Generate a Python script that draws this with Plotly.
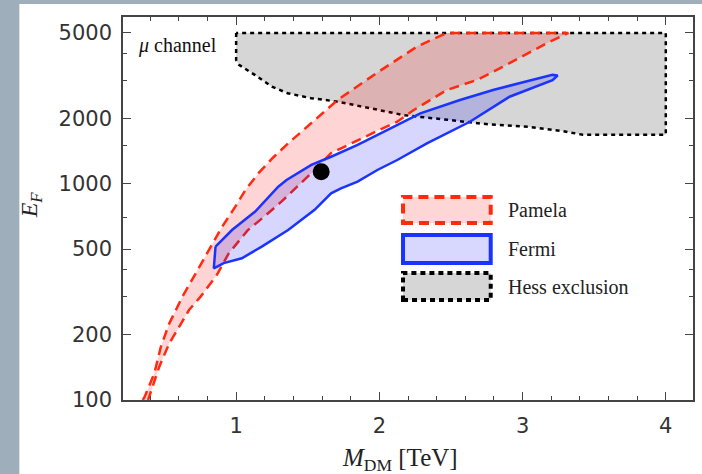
import plotly.graph_objects as go

# ---------------- data ----------------
# Pamela region: upper (left) boundary, top segment at 5000, lower (right) boundary
pamela_x = [0.348, 0.36, 0.429, 0.475, 0.533, 0.625, 0.718, 0.81, 0.902, 0.994,
            1.066, 1.156, 1.26, 1.363, 1.548, 1.709, 1.986, 2.263, 2.47,
            3.32,
            3.17, 2.86, 2.68, 2.47, 2.24, 2.125, 2.009, 1.85, 1.663, 1.525, 1.316,
            1.2, 1.08, 0.948, 0.866, 0.752, 0.671, 0.602, 0.533, 0.464, 0.394, 0.385]
pamela_y = [100, 103, 133, 177, 226, 301, 386, 494, 634, 785,
            940, 1122, 1330, 1541, 1978, 2449, 3280, 4325, 5000,
            5000,
            4490, 3480, 3030, 2720, 2200, 1941, 1790, 1598, 1390, 1122, 828,
            710, 610, 477, 380, 301, 261, 218, 183, 143, 103, 100]

# Fermi region: upper edge to the tip, then lower edge back
fermi_x = [0.856, 0.971, 1.133, 1.294, 1.352, 1.525, 1.663, 1.848, 2.033, 2.286,
           2.563, 2.794, 3.024, 3.209, 3.245,
           3.209, 2.909, 2.632, 2.332, 2.125, 1.986, 1.848, 1.732, 1.663, 1.548,
           1.363, 1.179, 1.040, 0.913, 0.844, 0.856]
fermi_y = [513, 612, 745, 971, 1043, 1225, 1337, 1517, 1746, 2124,
           2449, 2723, 2981, 3199, 3180,
           3027, 2535, 1941, 1541, 1291, 1161, 1026, 955, 905, 759,
           612, 513, 453, 430, 407, 513]

# Hess exclusion region
hess_x = [1.0, 1.0, 1.02, 1.13, 1.25, 1.36, 1.525, 1.71, 1.94, 2.17, 2.49, 2.72,
          3.05, 3.28, 3.42, 4.0, 4.0, 1.0]
hess_y = [5000, 3750, 3560, 3200, 2820, 2630, 2495, 2404, 2240, 2083, 1978, 1900,
          1836, 1758, 1690, 1690, 5000, 5000]

# best-fit point
point_x = [1.594]
point_y = [1140]

x_ticks = [1, 2, 3, 4]
x_minor = [0.4, 0.6, 0.8, 1.2, 1.4, 1.6, 1.8, 2.2, 2.4, 2.6, 2.8, 3.2, 3.4, 3.6, 3.8, 4.2]
y_ticks = [100, 200, 500, 1000, 2000, 5000]
y_tick_text = ["100", "200", "500", "1000", "2000", "5000"]
y_minor = [300, 400, 700, 1500, 3000, 4000]

legend_names = ["Pamela", "Fermi", "Hess exclusion"]

# ---------------- figure ----------------
RED = "#ff2a10"
BLUE = "#1a33ff"
SERIF = "Liberation Serif"
BACK = "#9eafbb"

fig = go.Figure()

fig.add_trace(go.Scatter(
    x=hess_x, y=hess_y, mode="lines", fill="toself", fillcolor="#d6d6d6",
    line=dict(color="black", width=2.5, dash="4px,4px"), hoverinfo="skip"))

fig.add_trace(go.Scatter(
    x=pamela_x, y=pamela_y, mode="lines", fill="toself",
    fillcolor="rgba(255,0,0,0.17)",
    line=dict(color=RED, width=2.5, dash="10px,6px"), hoverinfo="skip"))

fig.add_trace(go.Scatter(
    x=fermi_x, y=fermi_y, mode="lines", fill="toself",
    fillcolor="rgba(0,0,255,0.16)",
    line=dict(color=BLUE, width=2.5), hoverinfo="skip"))

fig.add_trace(go.Scatter(
    x=point_x, y=point_y, mode="markers",
    marker=dict(color="black", size=17), hoverinfo="skip"))

W, H = 702, 474
L, R, T, B = 123, 7, 17, 74
PW, PH = W - L - R, H - T - B


def px(xp):
    return (xp - L) / PW


def py(yp):
    return 1 - (yp - T) / PH


shapes = [
    # white panel over the blue-grey backdrop
    dict(type="rect", xref="paper", yref="paper", x0=px(19), x1=1.2,
         y0=-0.4, y1=py(4), fillcolor="white", line=dict(width=0), layer="below"),
]

# legend swatches
sw_x0, sw_x1 = px(404), px(492)
sw_rows = [(197, 223), (235, 263), (273, 300)]
sw_styles = [
    dict(fillcolor="#ffd6d6", line=dict(color=RED, width=4, dash="10px,6px")),
    dict(fillcolor="#d8d8ff", line=dict(color=BLUE, width=4)),
    dict(fillcolor="#d6d6d6", line=dict(color="black", width=4, dash="5px,4px")),
]
for (ya, yb), st in zip(sw_rows, sw_styles):
    shapes.append(dict(type="rect", xref="paper", yref="paper",
                       x0=sw_x0, x1=sw_x1, y0=py(yb), y1=py(ya), **st))

annotations = []
for name, (ya, yb) in zip(legend_names, sw_rows):
    annotations.append(dict(text=name, xref="paper", yref="paper",
                            x=px(507), y=py((ya + yb) / 2), xanchor="left",
                            yanchor="middle", showarrow=False,
                            font=dict(family=SERIF, size=20, color="#222")))

annotations += [
    dict(text="<i>μ</i> channel", xref="paper", yref="paper", x=px(136), y=py(45),
         xanchor="left", yanchor="middle", showarrow=False,
         font=dict(family=SERIF, size=20, color="#111")),
    dict(text="<i>E<sub>F</sub></i>", xref="paper", yref="paper", x=px(31), y=py(205),
         xanchor="center", yanchor="middle", showarrow=False, textangle=-90,
         font=dict(family=SERIF, size=24, color="#222")),
    dict(text="<i>M</i><sub>DM</sub> [TeV]", xref="paper", yref="paper",
         x=px(401), y=py(459), xanchor="center", yanchor="middle", showarrow=False,
         font=dict(family=SERIF, size=25, color="#222")),
]

axis_common = dict(
    showline=True, linecolor="#444", linewidth=1.5, mirror="ticks",
    ticks="inside", ticklen=8, tickwidth=1.2, tickcolor="#444",
    showgrid=False, zeroline=False,
    tickfont=dict(family="DejaVu Sans", size=21, color="#333"),
)

fig.update_layout(
    width=W, height=H,
    margin=dict(l=L, r=R, t=T, b=B),
    paper_bgcolor=BACK,
    plot_bgcolor="white",
    showlegend=False,
    shapes=shapes,
    annotations=annotations,
    xaxis=dict(range=[0.21, 4.19], tickvals=x_ticks, ticktext=[str(v) for v in x_ticks],
               ticklabelstandoff=6,
               minor=dict(tickvals=x_minor, ticklen=4, tickwidth=1, tickcolor="#444",
                          ticks="inside"),
               **axis_common),
    yaxis=dict(type="log", range=[2, 3.773], tickvals=y_ticks, ticktext=y_tick_text,
               ticklabelstandoff=5,
               minor=dict(tickvals=y_minor, ticklen=4, tickwidth=1, tickcolor="#444",
                          ticks="inside"),
               **axis_common),
)

fig.write_html(
    "out.html",
    config={"displayModeBar": False},
    post_script=("document.body.style.margin='0';"
                 "document.body.style.overflow='hidden';"
                 "document.body.style.background='" + BACK + "';"),
)
